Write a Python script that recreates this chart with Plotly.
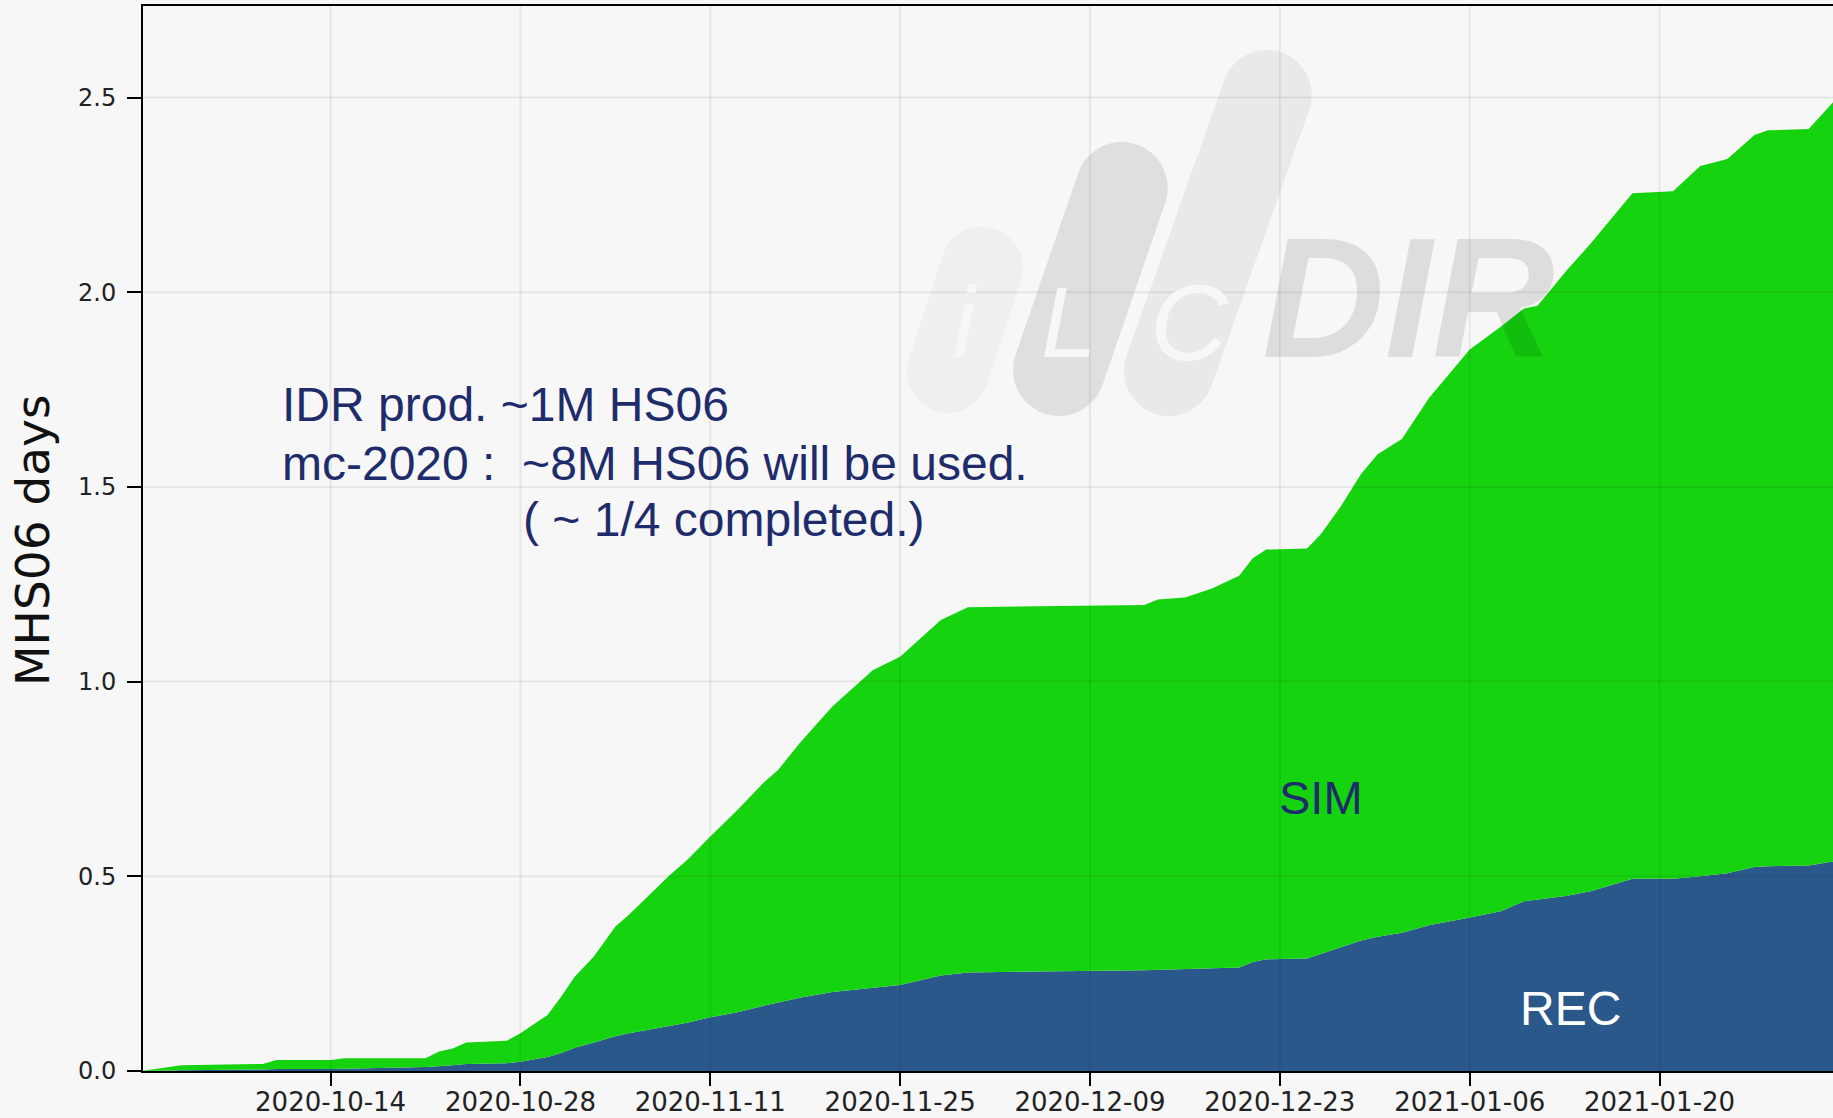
import numpy as np
import plotly.graph_objects as go

# ---------------- data ----------------
dates = ["2020-09-30", "2020-10-03", "2020-10-09", "2020-10-10", "2020-10-14", "2020-10-15",
         "2020-10-21", "2020-10-22", "2020-10-23", "2020-10-24", "2020-10-27", "2020-10-28",
         "2020-10-30", "2020-10-31", "2020-11-01", "2020-11-02 10:00", "2020-11-04", "2020-11-05",
         "2020-11-08", "2020-11-09 07:00", "2020-11-11", "2020-11-13", "2020-11-15", "2020-11-16",
         "2020-11-17 14:00", "2020-11-20", "2020-11-23", "2020-11-25", "2020-11-28", "2020-11-30",
         "2020-12-13", "2020-12-14", "2020-12-16", "2020-12-18", "2020-12-20", "2020-12-21",
         "2020-12-22", "2020-12-25", "2020-12-26", "2020-12-27 12:00", "2020-12-29", "2020-12-30 05:00",
         "2021-01-01", "2021-01-03", "2021-01-06", "2021-01-08 07:00", "2021-01-10", "2021-01-11",
         "2021-01-13 05:00", "2021-01-15", "2021-01-18", "2021-01-21", "2021-01-23", "2021-01-25",
         "2021-01-27", "2021-01-28", "2021-01-31", "2021-02-01 19:00"]

rec = [0.000, 0.002, 0.004, 0.005, 0.005, 0.006, 0.010, 0.012, 0.015, 0.018, 0.020, 0.024,
       0.036, 0.046, 0.060, 0.073, 0.089, 0.097, 0.116, 0.124, 0.138, 0.151, 0.168, 0.176,
       0.188, 0.203, 0.214, 0.221, 0.245, 0.253, 0.259, 0.260, 0.261, 0.263, 0.266, 0.280,
       0.287, 0.289, 0.300, 0.318, 0.335, 0.345, 0.355, 0.374, 0.394, 0.410, 0.436, 0.440,
       0.450, 0.462, 0.494, 0.494, 0.500, 0.508, 0.524, 0.526, 0.528, 0.538]

sim = [0.000, 0.013, 0.014, 0.023, 0.023, 0.027, 0.023, 0.038, 0.043, 0.055, 0.058, 0.073,
       0.108, 0.145, 0.182, 0.221, 0.282, 0.304, 0.387, 0.418, 0.464, 0.519, 0.575, 0.597,
       0.654, 0.733, 0.816, 0.843, 0.913, 0.938, 0.938, 0.951, 0.955, 0.976, 1.006, 1.037,
       1.052, 1.053, 1.078, 1.132, 1.199, 1.239, 1.268, 1.354, 1.459, 1.501, 1.522, 1.525,
       1.608, 1.666, 1.760, 1.765, 1.824, 1.834, 1.880, 1.890, 1.891, 1.950]

x_ticks = ["2020-10-14", "2020-10-28", "2020-11-11", "2020-11-25", "2020-12-09",
           "2020-12-23", "2021-01-06", "2021-01-20"]
y_ticks = [0.0, 0.5, 1.0, 1.5, 2.0, 2.5]

x_range = ["2020-09-30 04:00", "2021-02-01 19:00"]
y_range = [0, 2.735]

# ---------------- layout geometry (page pixels) ----------------
W, H = 1833, 1118
PLOT_L, PLOT_T, PLOT_B = 143, 6, 1071
ML, MT, MR = PLOT_L, PLOT_T, 0
MB = H - PLOT_B
PW, PH = W - ML - MR, H - MT - MB


def px(X):
    return (X - PLOT_L) / PW


def py(Y):
    return (PLOT_B - Y) / PH


BG = "#F7F7F7"
GREEN = "#16D30F"
BLUE = "#2A588A"
NAVY = "#1F2C6B"

fig = go.Figure()
fig.add_trace(go.Scatter(x=dates, y=rec, name="REC", mode="lines", stackgroup="one",
                         line=dict(width=0, color=BLUE), fillcolor=BLUE))
fig.add_trace(go.Scatter(x=dates, y=sim, name="SIM", mode="lines", stackgroup="one",
                         line=dict(width=0, color=GREEN), fillcolor=GREEN))

shapes = []


# watermark pills (slanted stadium shapes), page-pixel geometry
def stadium(p1, p2, r, n=30):
    p1 = np.array(p1, float)
    p2 = np.array(p2, float)
    u = (p2 - p1) / np.linalg.norm(p2 - p1)
    a0 = np.arctan2(u[1], u[0])
    pts = []
    for t in np.linspace(a0 + np.pi / 2, a0 + 3 * np.pi / 2, n):
        pts.append(p1 + r * np.array([np.cos(t), np.sin(t)]))
    for t in np.linspace(a0 - np.pi / 2, a0 + np.pi / 2, n):
        pts.append(p2 + r * np.array([np.cos(t), np.sin(t)]))
    return "M " + " L ".join(f"{px(p[0]):.5f},{py(p[1]):.5f}" for p in pts) + " Z"


pills = [((981.7, 268), (948, 372), 43, "#EFEFEF"),
         ((1266.7, 95), (1169, 371), 47, "#E9E9E9"),
         ((1121.7, 188), (1059, 370), 48, "#DFDFDF")]
for p1, p2, r, c in pills:
    shapes.append(dict(type="path", path=stadium(p1, p2, r), xref="paper", yref="paper",
                       fillcolor=c, line=dict(color=BG, width=4), layer="below"))

# grid lines drawn faintly above the fills
for t in x_ticks:
    shapes.append(dict(type="line", xref="x", yref="paper", x0=t, x1=t, y0=0, y1=1,
                       line=dict(color="rgba(0,0,0,0.065)", width=2), layer="above"))
for t in y_ticks[1:]:
    shapes.append(dict(type="line", xref="paper", yref="y", x0=0, x1=1, y0=t, y1=t,
                       line=dict(color="rgba(0,0,0,0.065)", width=2), layer="above"))

annotations = []
# watermark letters
for txt, X, Y, size, col, bold in [("i", 965, 322, 100, BG, False),
                                   ("L", 1069, 322, 100, BG, False),
                                   ("C", 1189, 322, 108, BG, False),
                                   ("DIR", 1408, 298, 170, "rgba(0,0,0,0.10)", True)]:
    t = f"<i>{txt}</i>"
    if bold:
        t = f"<b>{t}</b>"
    annotations.append(dict(text=t, x=px(X), y=py(Y), xref="paper", yref="paper",
                            xanchor="center", yanchor="middle", showarrow=False,
                            font=dict(family="Liberation Sans", size=size, color=col)))

TF = dict(family="Liberation Sans", size=48, color=NAVY)
annotations += [
    dict(text="IDR prod. ~1M HS06", x=px(280), y=py(404), xref="paper", yref="paper",
         xanchor="left", yanchor="middle", showarrow=False, font=TF),
    dict(text="mc-2020 :\u00a0\u00a0~8M HS06 will be used.", x=px(280), y=py(463),
         xref="paper", yref="paper", xanchor="left", yanchor="middle", showarrow=False, font=TF),
    dict(text="( ~ 1/4 completed.)", x=px(521), y=py(519), xref="paper", yref="paper",
         xanchor="left", yanchor="middle", showarrow=False, font=TF),
    dict(text="SIM", x=px(1321), y=py(797), xref="paper", yref="paper",
         xanchor="center", yanchor="middle", showarrow=False,
         font=dict(family="Liberation Sans", size=47, color=NAVY)),
    dict(text="REC", x=px(1570), y=py(1008), xref="paper", yref="paper",
         xanchor="center", yanchor="middle", showarrow=False,
         font=dict(family="Liberation Sans", size=48, color="white")),
    dict(text="MHS06 days", x=px(33), y=py(541), xref="paper", yref="paper",
         xanchor="center", yanchor="middle", showarrow=False, textangle=-90,
         font=dict(family="DejaVu Sans", size=47, color="#111111")),
]

fig.update_layout(
    width=W, height=H,
    margin=dict(l=ML, r=MR, t=MT, b=MB, pad=0, autoexpand=False),
    paper_bgcolor=BG, plot_bgcolor=BG,
    showlegend=False,
    shapes=shapes, annotations=annotations,
    xaxis=dict(type="date", range=x_range, tickvals=x_ticks, ticktext=x_ticks,
               showgrid=False, zeroline=False, automargin=False,
               showline=True, linecolor="black", linewidth=2, mirror=True,
               ticks="outside", ticklen=13, tickwidth=1.5, tickcolor="black",
               ticklabelstandoff=-6,
               tickfont=dict(family="DejaVu Sans", size=26, color="#222222"),
               layer="above traces"),
    yaxis=dict(range=y_range, tickvals=y_ticks, tickformat=".1f",
               showgrid=False, zeroline=False, automargin=False,
               showline=True, linecolor="black", linewidth=2, mirror=False,
               ticks="outside", ticklen=14, tickwidth=1.5, tickcolor="black",
               ticklabelstandoff=6,
               tickfont=dict(family="DejaVu Sans", size=24, color="#222222"),
               layer="above traces"),
)

fig.write_html(
    "out.html",
    config={"displayModeBar": False},
    post_script="document.body.style.margin='0';document.body.style.background='#F7F7F7';",
)
